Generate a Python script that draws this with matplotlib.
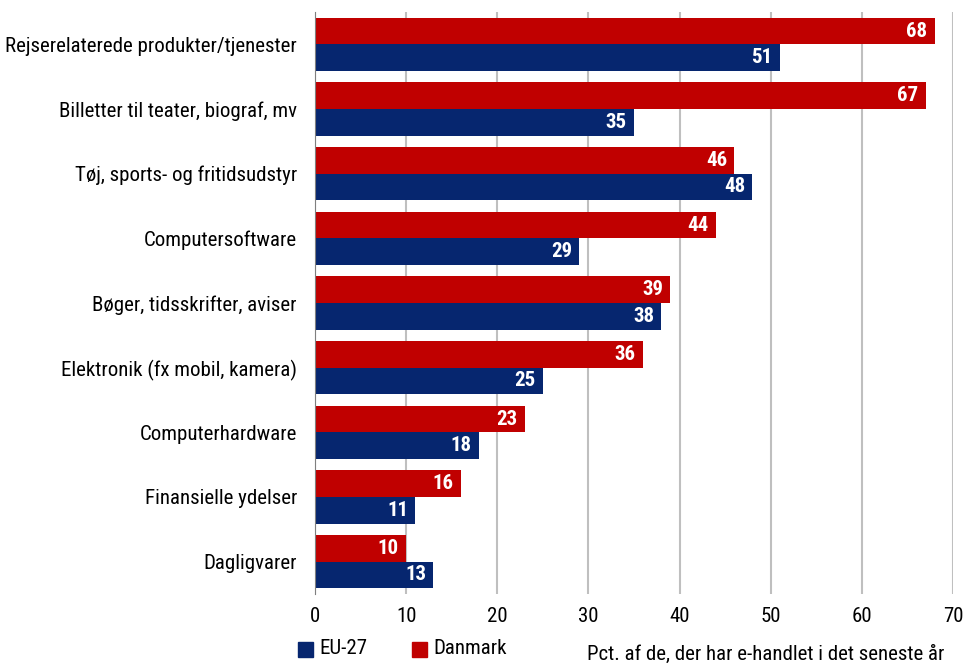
import matplotlib
matplotlib.use("Agg")
import matplotlib.pyplot as plt
import numpy as np
from matplotlib.patches import Rectangle
from matplotlib import font_manager

categories = ["Rejserelaterede produkter/tjenester", "Billetter til teater, biograf, mv",
              "Tøj, sports- og fritidsudstyr", "Computersoftware",
              "Bøger, tidsskrifter, aviser", "Elektronik (fx mobil, kamera)",
              "Computerhardware", "Finansielle ydelser", "Dagligvarer"]
danmark = [68, 67, 46, 44, 39, 36, 23, 16, 10]
eu27 = [51, 35, 48, 29, 38, 25, 18, 11, 13]
xticks = [0, 10, 20, 30, 40, 50, 60, 70]
series_names = ["EU-27", "Danmark"]
xlabel = "Pct. af de, der har e-handlet i det seneste år"

RED = "#C00000"
BLUE = "#06266F"

names = {f.name for f in font_manager.fontManager.ttflist}
cands = ["Liberation Sans Narrow", "Roboto Condensed", "Open Sans Condensed", "DejaVu Sans"]
fam = next(c for c in cands if c in names)
plt.rcParams['font.family'] = [fam, "DejaVu Sans"]
plt.rcParams['font.stretch'] = 'condensed'
FS = 15

fig = plt.figure(figsize=(9.7, 6.64), dpi=100)
ax = fig.add_axes([315/970, 1-594/664, (953-315)/970, (594-12)/664])

n = len(categories)
y = np.arange(n)
h = 0.41
ax.barh(y - h/2, danmark, height=h, color=RED, zorder=3)
ax.barh(y + h/2, eu27, height=h, color=BLUE, zorder=3)
for yi, v in zip(y, danmark):
    ax.text(v - 0.8, yi - h/2, str(v), color="white", fontsize=FS, fontweight="bold",
            ha="right", va="center", zorder=4)
for yi, v in zip(y, eu27):
    ax.text(v - 0.8, yi + h/2, str(v), color="white", fontsize=FS, fontweight="bold",
            ha="right", va="center", zorder=4)

ax.set_ylim(n - 0.5, -0.5)
ax.set_xlim(0, 70)
ax.set_xticks(xticks)
ax.set_yticks(y)
ax.set_yticklabels(categories, fontsize=FS)
ax.tick_params(axis='x', labelsize=FS, length=0, pad=9)
ax.tick_params(axis='y', length=0, pad=13)
ax.grid(axis='x', color="#BFBFBF", linewidth=1.5, zorder=0)
for s in ["top", "right", "bottom"]:
    ax.spines[s].set_visible(False)
ax.spines["left"].set_color("#7F7F7F")
ax.spines["left"].set_zorder(5)

# legend
fig.patches.append(Rectangle((298/970, 1-657/664), 15/970, 15/664, color=BLUE, transform=fig.transFigure))
fig.text(319/970, 1-649/664, series_names[0], fontsize=FS, va="center", ha="left")
fig.patches.append(Rectangle((412/970, 1-657/664), 15/970, 15/664, color=RED, transform=fig.transFigure))
fig.text(433/970, 1-649/664, series_names[1], fontsize=FS, va="center", ha="left")
fig.text(944/970, 1-654/664, xlabel, fontsize=FS, va="center", ha="right")

fig.savefig("out.png", dpi=100)
